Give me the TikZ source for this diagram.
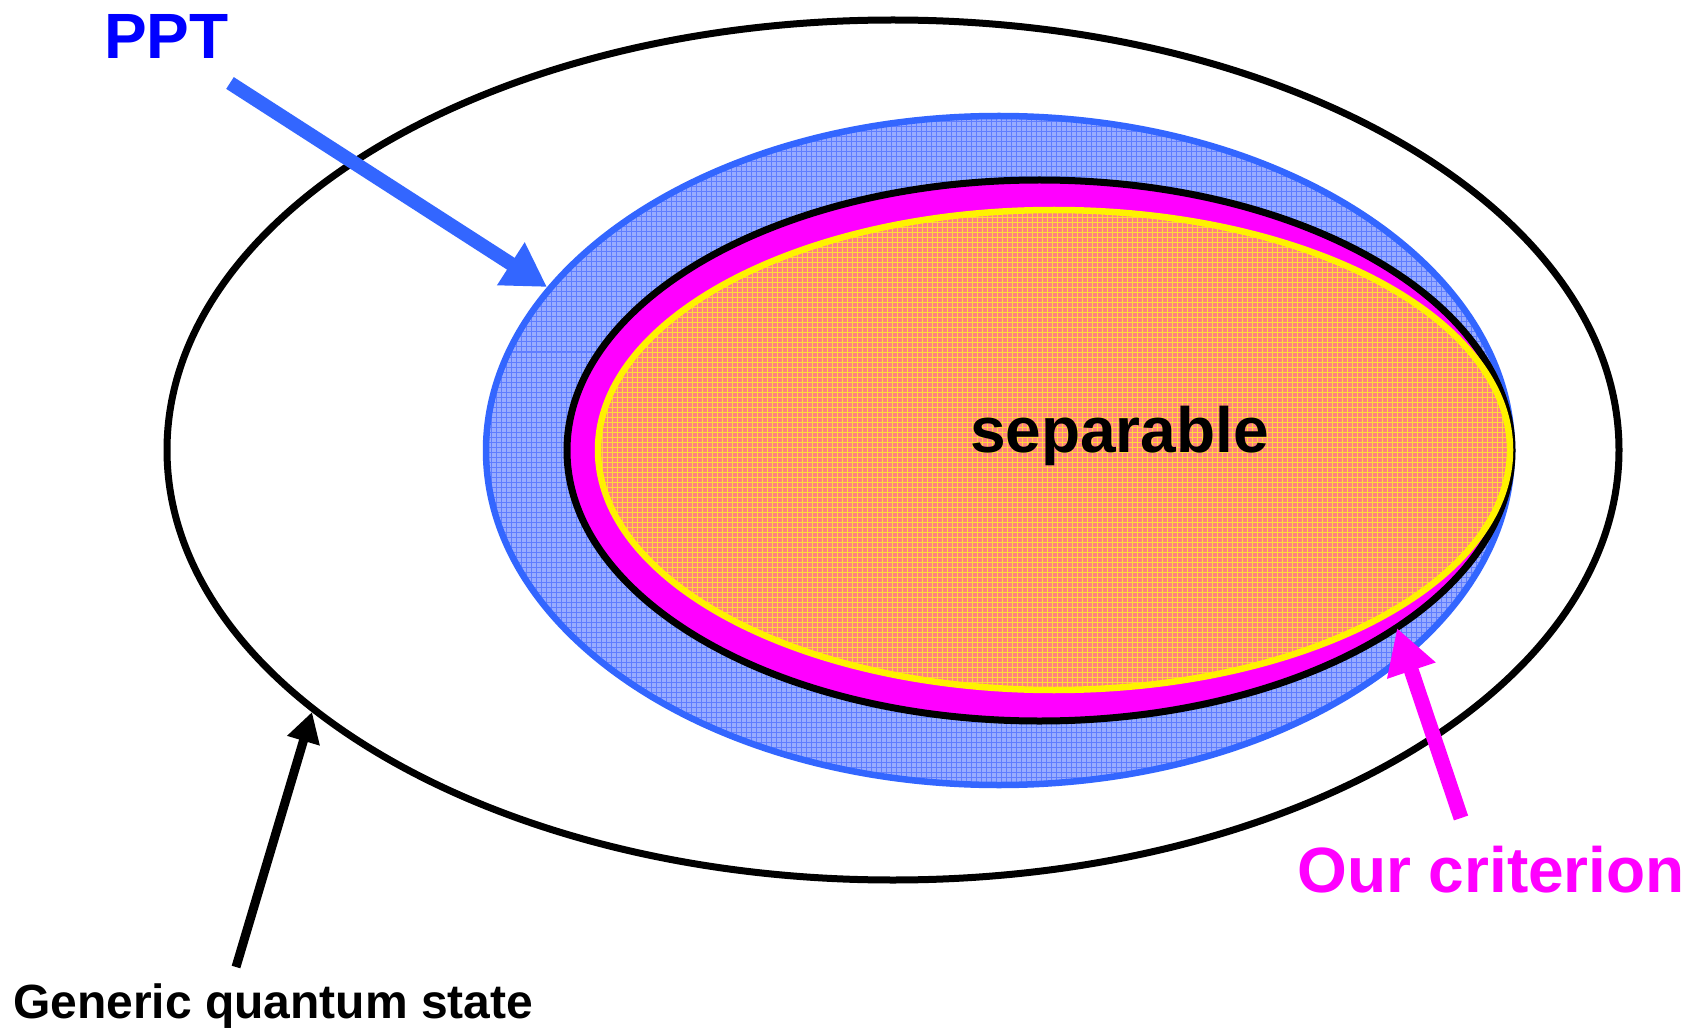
\documentclass[tikz,border=0pt]{standalone}
\usepackage{fontspec}
\setmainfont{Liberation Sans}
\usetikzlibrary{arrows.meta}
\definecolor{pptblue}{RGB}{51,102,255}
\definecolor{pptfill}{RGB}{152,172,255}
\definecolor{gridblue}{RGB}{95,125,255}
\definecolor{critmag}{RGB}{255,0,255}
\definecolor{sepfill}{RGB}{255,128,128}
\definecolor{gridyel}{RGB}{255,215,60}
\definecolor{txtblue}{RGB}{0,0,255}
\tikzset{
  bigtext/.style={inner sep=0pt, font=\fontsize{64}{64}\selectfont\bfseries},
  smalltext/.style={inner sep=0pt, font=\fontsize{48}{48}\selectfont\bfseries},
  ringline/.style={line width=6.5pt},
}
\begin{document}
\begin{tikzpicture}[x=1pt,y=-1pt]
\useasboundingbox (0,0) rectangle (1695,1032);
\fill[white] (0,0) rectangle (1695,1032);

% generic quantum states
\draw[ringline, black, line width=7pt] (893,450) ellipse [x radius=726pt, y radius=430pt];

% PPT region
\begin{scope}
  \clip (999,450.5) ellipse [x radius=513pt, y radius=334.5pt];
  \fill[pptfill] (480,110) rectangle (1520,790);
  \foreach \i in {0,...,208} \draw[gridblue, line width=1pt] ({481+5*\i},110) -- ({481+5*\i},790);
  \foreach \j in {0,...,136} \draw[gridblue, line width=1pt] (480,{112+5*\j}) -- (1520,{112+5*\j});
\end{scope}
\draw[ringline, pptblue] (999,450.5) ellipse [x radius=513pt, y radius=334.5pt];

% our criterion region
\filldraw[ringline, line width=7pt, fill=critmag, draw=black] (1039.5,450.5) ellipse [x radius=472.5pt, y radius=270.5pt];

% separable region
\begin{scope}
  \clip (1054,450) ellipse [x radius=456pt, y radius=240pt];
  \fill[sepfill] (590,200) rectangle (1520,700);
  \foreach \i in {0,...,186} \draw[gridyel, line width=0.9pt] ({592+5*\i},200) -- ({592+5*\i},700);
  \foreach \j in {0,...,100} \draw[gridyel, line width=0.9pt] (590,{202+5*\j}) -- (1520,{202+5*\j});
\end{scope}
\draw[ringline, yellow] (1054,450) ellipse [x radius=456pt, y radius=240pt];

% labels
\node[bigtext, text=txtblue, anchor=base west] (ppt) at (104,59) {PPT};
\node[bigtext, text=black, anchor=base] (sep) at (1119.5,452) {separable};
\node[bigtext, text=critmag, anchor=base west] (crit) at (1297,892) {Our criterion};
\node[smalltext, text=black, anchor=base west] (gen) at (13,1018) {Generic quantum state};

% arrows
\coordinate (ppttail) at (230,83);
\coordinate (ppttip) at (547,287);
\coordinate (gentail) at (236,967);
\coordinate (gentip) at (312,712);
\coordinate (crittail) at (1461,818);
\coordinate (crittip) at (1397,628);
\draw[pptblue, line width=14pt, -{Triangle[length=43pt,width=48pt]}] (ppttail) -- (ppttip);
\draw[black, line width=9pt, -{Triangle[length=30pt,width=32pt]}] (gentail) -- (gentip);
\draw[critmag, line width=15pt, -{Triangle[length=45pt,width=48pt]}] (crittail) -- (crittip);
\end{tikzpicture}
\end{document}
